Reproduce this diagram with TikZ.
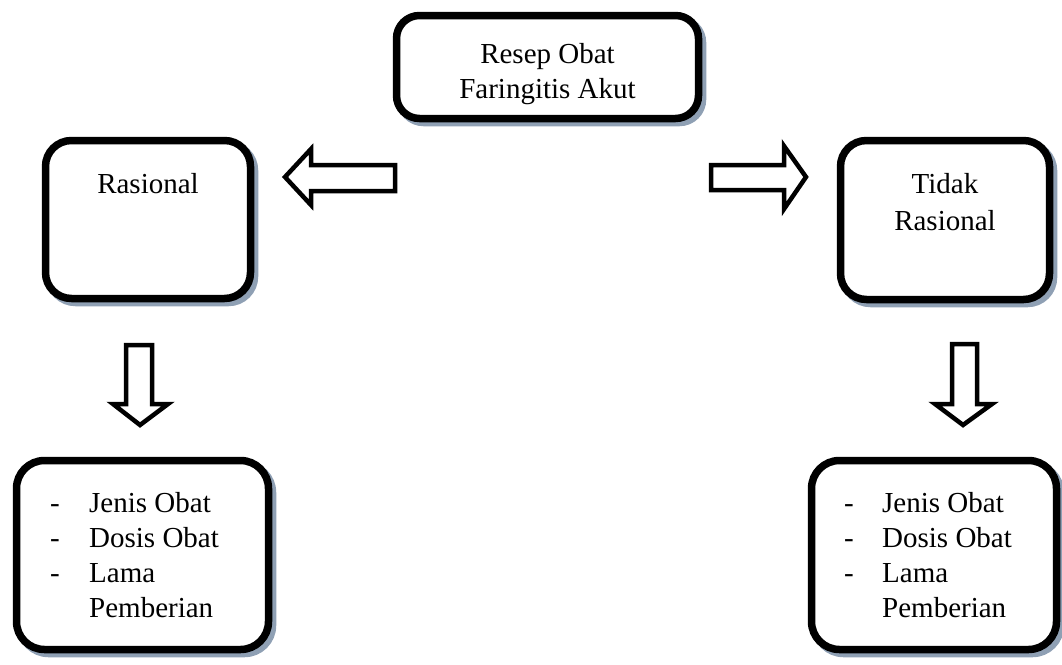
\documentclass[tikz,border=0pt]{standalone}
\usepackage{fontspec}
\setmainfont{Liberation Serif}
\definecolor{shadowc}{RGB}{143,160,180}
\tikzset{
  box/.style={draw=black, fill=white, line width=7.5pt, rounded corners=26pt, inner sep=0pt,
    preaction={draw=shadowc, line width=7.5pt, transform canvas={shift={(4pt,-4pt)}}}},
  txt/.style={font=\fontsize{29}{35}\selectfont, inner sep=0pt, anchor=base},
  ltxt/.style={txt, anchor=base west},
  blockarrow/.style={draw=black, fill=white, line width=4.5pt, line join=miter}
}
\begin{document}
\begin{tikzpicture}[x=1pt, y=-1pt]
\useasboundingbox (0,0) rectangle (1062,664);
% boxes
\node[box, rounded corners=23pt, minimum width=302pt, minimum height=103pt] (top) at (547.5,67) {};
\node[box, minimum width=205pt, minimum height=158pt] (rasional) at (148,219.5) {};
\node[box, minimum width=209pt, minimum height=159pt] (tidak) at (945,220) {};
\node[box, rounded corners=28pt, minimum width=252pt, minimum height=189pt] (bl) at (142.5,555) {};
\node[box, rounded corners=28pt, minimum width=245pt, minimum height=189pt] (br) at (934,555) {};
% texts
\node[txt] (t1) at (547.5,63) {Resep Obat};
\node[txt] (t2) at (547.5,98) {Faringitis Akut};
\node[txt] (r1) at (148,193) {Rasional};
\node[txt] (n1) at (945,193) {Tidak};
\node[txt] (n2) at (945,230) {Rasional};
% left list
\node[txt] (ld1) at (55,512) {-};
\node[txt] (ld2) at (55,547) {-};
\node[txt] (ld3) at (55,582) {-};
\node[ltxt] (la1) at (89,512) {Jenis Obat};
\node[ltxt] (la2) at (89,547) {Dosis Obat};
\node[ltxt] (la3) at (89,582) {Lama};
\node[ltxt] (la4) at (89,617) {Pemberian};
% right list
\node[txt] (rd1) at (849,512) {-};
\node[txt] (rd2) at (849,547) {-};
\node[txt] (rd3) at (849,582) {-};
\node[ltxt] (ra1) at (882,512) {Jenis Obat};
\node[ltxt] (ra2) at (882,547) {Dosis Obat};
\node[ltxt] (ra3) at (882,582) {Lama};
\node[ltxt] (ra4) at (882,617) {Pemberian};
% block arrows
\draw[blockarrow] (285,177) -- (311,149) -- (311,165) -- (395,165) -- (395,191) -- (311,191) -- (311,205) -- cycle;
\draw[blockarrow] (806,177) -- (784,146) -- (784,165) -- (711,165) -- (711,190) -- (784,190) -- (784,209) -- cycle;
\draw[blockarrow] (140,425) -- (113,404) -- (126,404) -- (126,345) -- (152,345) -- (152,404) -- (168,404) -- cycle;
\draw[blockarrow] (963,425) -- (935,404) -- (952,404) -- (952,344) -- (977,344) -- (977,404) -- (992,404) -- cycle;
\end{tikzpicture}
\end{document}
